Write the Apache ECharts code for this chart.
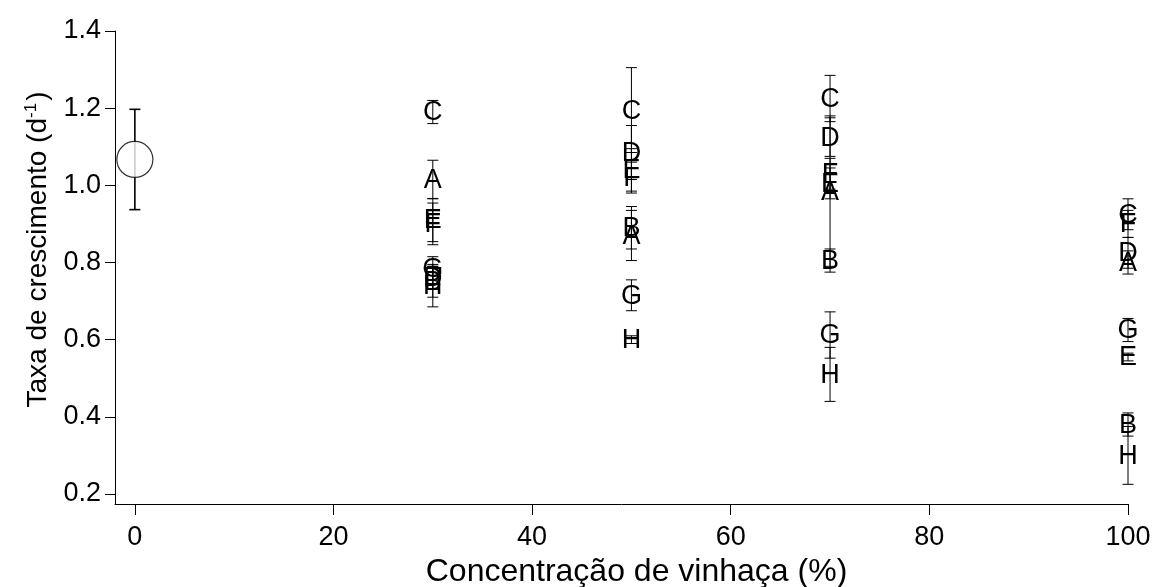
<!DOCTYPE html>
<html>
<head>
<meta charset="utf-8">
<script src="https://cdn.jsdelivr.net/npm/echarts@6/dist/echarts.min.js"></script>
<style>
html,body{margin:0;padding:0;background:#fff;}
#chart{width:1153px;height:587px;}
</style>
</head>
<body>
<div id="chart"></div>
<script>
// ---- data ----
const letters = ['A','B','C','D','E','F','G','H'];
const concentrations = [30, 50, 70, 100];
const meanA = [1.015, 0.87, 0.985, 0.80];
const errA  = [0.05, 0.065, 0.195, 0.03];
const meanB = [0.75, 0.89, 0.805, 0.38];
const errB  = [0.04, 0.055, 0.03, 0.03];
const meanC = [1.19, 1.195, 1.225, 0.925];
const errC  = [0.03, 0.11, 0.06, 0.04];
const meanD = [0.76, 1.085, 1.125, 0.825];
const errD  = [0.03, 0.07, 0.05, 0.04];
const meanE = [0.91, 1.04, 1.005, 0.555];
const errE  = [0.056, 0.055, 0.04, 0.01];
const meanF = [0.90, 1.02, 1.03, 0.90];
const errF  = [0.054, 0.04, 0.04, 0.035];
const meanG = [0.785, 0.715, 0.612, 0.625];
const errG  = [0.03, 0.04, 0.06, 0.03];
const meanH = [0.74, 0.60, 0.51, 0.30];
const errH  = [0.055, 0.01, 0.07, 0.075];
const controlX = [0];
const controlMean = [1.067];
const controlErr = [0.13];
const xTicks = [0, 20, 40, 60, 80, 100];
const yTicks = [0.2, 0.4, 0.6, 0.8, 1.0, 1.2, 1.4];

const means = [meanA, meanB, meanC, meanD, meanE, meanF, meanG, meanH];
const errs  = [errA, errB, errC, errD, errE, errF, errG, errH];

const FONT = '"Liberation Sans", Arial, sans-serif';

function errorBarRender(lw, capHalf) {
  return function (params, api) {
    const x = api.value(0), y = api.value(1), e = api.value(2);
    const top = api.coord([x, y + e]);
    const bot = api.coord([x, y - e]);
    const st = {stroke: '#000', lineWidth: lw};
    return {
      type: 'group',
      children: [
        {type: 'line', shape: {x1: top[0], y1: top[1], x2: bot[0], y2: bot[1]}, style: st},
        {type: 'line', shape: {x1: top[0] - capHalf, y1: top[1], x2: top[0] + capHalf, y2: top[1]}, style: st},
        {type: 'line', shape: {x1: bot[0] - capHalf, y1: bot[1], x2: bot[0] + capHalf, y2: bot[1]}, style: st}
      ]
    };
  };
}

const series = [];
letters.forEach(function (L, i) {
  const data = concentrations.map(function (c, j) { return [c, means[i][j], errs[i][j]]; });
  series.push({
    type: 'custom', name: L + ' err', data: data, silent: true, z: 2,
    renderItem: errorBarRender(1, 5.5)
  });
  series.push({
    type: 'custom', name: L, data: data, silent: true, z: 3,
    renderItem: function (params, api) {
      const p = api.coord([api.value(0), api.value(1)]);
      return {
        type: 'text', x: p[0], y: p[1] + 1,
        style: {text: L, font: '27px ' + FONT, fill: '#000', align: 'center', verticalAlign: 'middle'}
      };
    }
  });
});

const controlData = controlX.map(function (x, j) { return [x, controlMean[j], controlErr[j]]; });
series.push({
  type: 'custom', name: 'control err', data: controlData, silent: true, z: 2,
  renderItem: errorBarRender(1.6, 5.5)
});
series.push({
  type: 'scatter', name: 'control', data: controlData.map(function (d) { return [d[0], d[1]]; }),
  symbol: 'circle', symbolSize: 36, z: 4, silent: true,
  itemStyle: {color: '#fff', borderColor: '#000', borderWidth: 1.2}
});

const chart = echarts.init(document.getElementById('chart'), null, {renderer: 'canvas'});
chart.setOption({
  animation: false,
  backgroundColor: '#fff',
  grid: {left: 115, right: 25, top: 31, bottom: 83, containLabel: false, outerBoundsMode: 'none'},
  xAxis: {
    type: 'value', min: -2, max: 100,
    axisLine: {show: true, onZero: false, lineStyle: {color: '#000', width: 1}},
    axisTick: {show: true, customValues: xTicks, length: 11, inside: false, lineStyle: {color: '#000'}},
    axisLabel: {customValues: xTicks, fontSize: 27, fontFamily: FONT, color: '#000', margin: 20},
    splitLine: {show: false},
    name: 'Concentração de vinhaça (%)',
    nameLocation: 'middle', nameGap: 51,
    nameTextStyle: {fontSize: 32, fontFamily: FONT, color: '#000', padding: [0, 0, 0, 30]}
  },
  yAxis: {
    type: 'value', min: 0.174, max: 1.4,
    axisLine: {show: true, onZero: false, lineStyle: {color: '#000', width: 1}},
    axisTick: {show: true, customValues: yTicks, length: 10, inside: false, lineStyle: {color: '#000'}},
    axisLabel: {customValues: yTicks, fontSize: 27, fontFamily: FONT, color: '#000', margin: 14,
      formatter: function (v) { return Number(v).toFixed(1); }},
    splitLine: {show: false},
    name: 'Taxa de crescimento (d{sup|-1})',
    nameLocation: 'middle', nameGap: 61, nameRotate: 90,
    nameTextStyle: {fontSize: 28, fontFamily: FONT, color: '#000', padding: [0, 0, 0, 36],
      rich: {sup: {fontSize: 17, fontFamily: FONT, color: '#000', verticalAlign: 'top', padding: [0, 2, 14, 0]}}}
  },
  series: series
});
</script>
</body>
</html>
